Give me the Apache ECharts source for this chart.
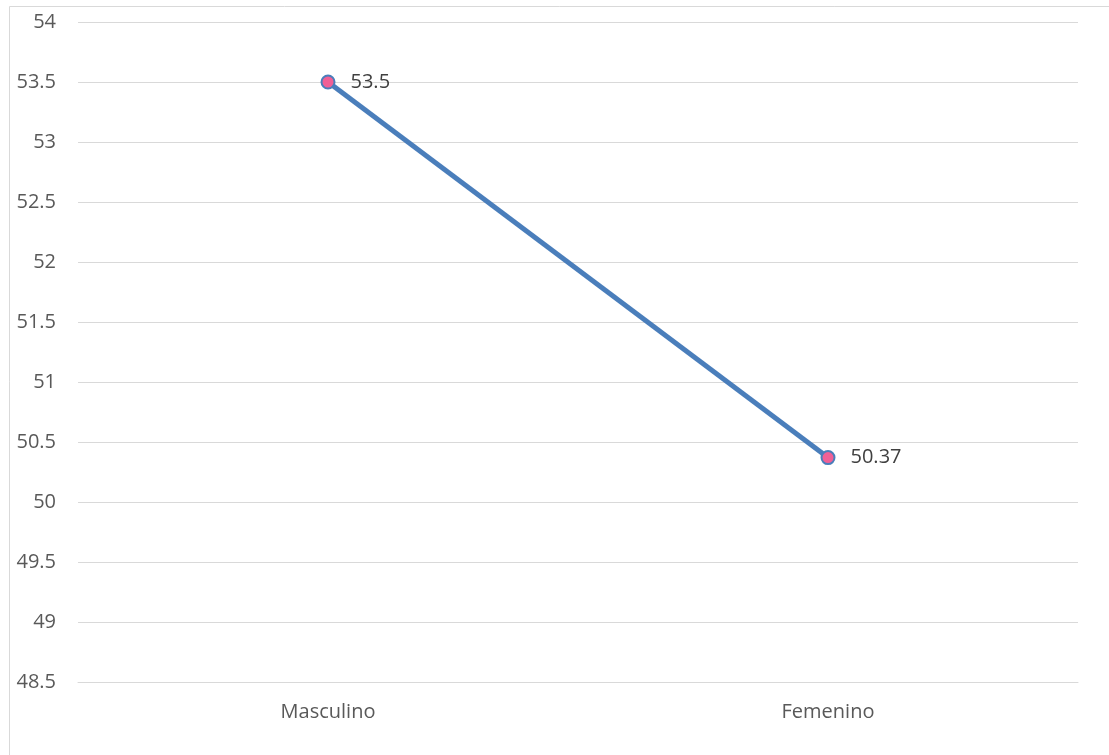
<!DOCTYPE html>
<html>
<head>
<meta charset="utf-8">
<script src="https://cdn.jsdelivr.net/npm/echarts@6/dist/echarts.min.js"></script>
<style>
  html, body { margin: 0; padding: 0; background: #ffffff; }
  #chart { width: 1109px; height: 755px; }
</style>
</head>
<body>
<div id="chart"></div>
<script>
// Category names and the mean value for each group
const categories = ['Masculino', 'Femenino'];
const values = [53.5, 50.37];

// Value axis range and step
const yMin = 48.5;
const yMax = 54;
const yStep = 0.5;

const chart = echarts.init(document.getElementById('chart'), null, { renderer: 'canvas' });

const textColor = '#595959';
const gridColor = '#d9d9d9';
const fontFamily = '"Open Sans", "Liberation Sans", sans-serif';

chart.setOption({
  animation: false,
  backgroundColor: '#ffffff',
  graphic: [{
    // Thin frame around the chart area
    type: 'rect',
    shape: { x: 9.5, y: 6.5, width: 1200, height: 900 },
    style: { fill: 'none', stroke: gridColor, lineWidth: 1 },
    silent: true,
    z: -10
  }],
  grid: { left: 78, right: 31, top: 22, bottom: 73, containLabel: false },
  xAxis: {
    type: 'category',
    data: categories,
    boundaryGap: true,
    axisLine: { show: true, lineStyle: { color: gridColor, width: 1 } },
    axisTick: { show: false },
    axisLabel: { color: textColor, fontSize: 20, fontFamily: fontFamily, margin: 20 },
    splitLine: { show: false }
  },
  yAxis: {
    type: 'value',
    min: yMin,
    max: yMax,
    interval: yStep,
    axisLine: { show: false },
    axisTick: { show: false },
    axisLabel: { color: textColor, fontSize: 20, fontFamily: fontFamily, margin: 22 },
    splitLine: { show: true, lineStyle: { color: gridColor, width: 1 } }
  },
  series: [{
    type: 'line',
    data: values,
    symbol: 'circle',
    symbolSize: 13,
    lineStyle: { color: '#4a7ebb', width: 5 },
    itemStyle: { color: '#f06096', borderColor: '#4a7ebb', borderWidth: 2 },
    label: {
      show: true,
      position: 'right',
      distance: 15,
      color: '#404040',
      fontSize: 20,
      fontFamily: fontFamily
    },
    z: 5
  }]
});
</script>
</body>
</html>
